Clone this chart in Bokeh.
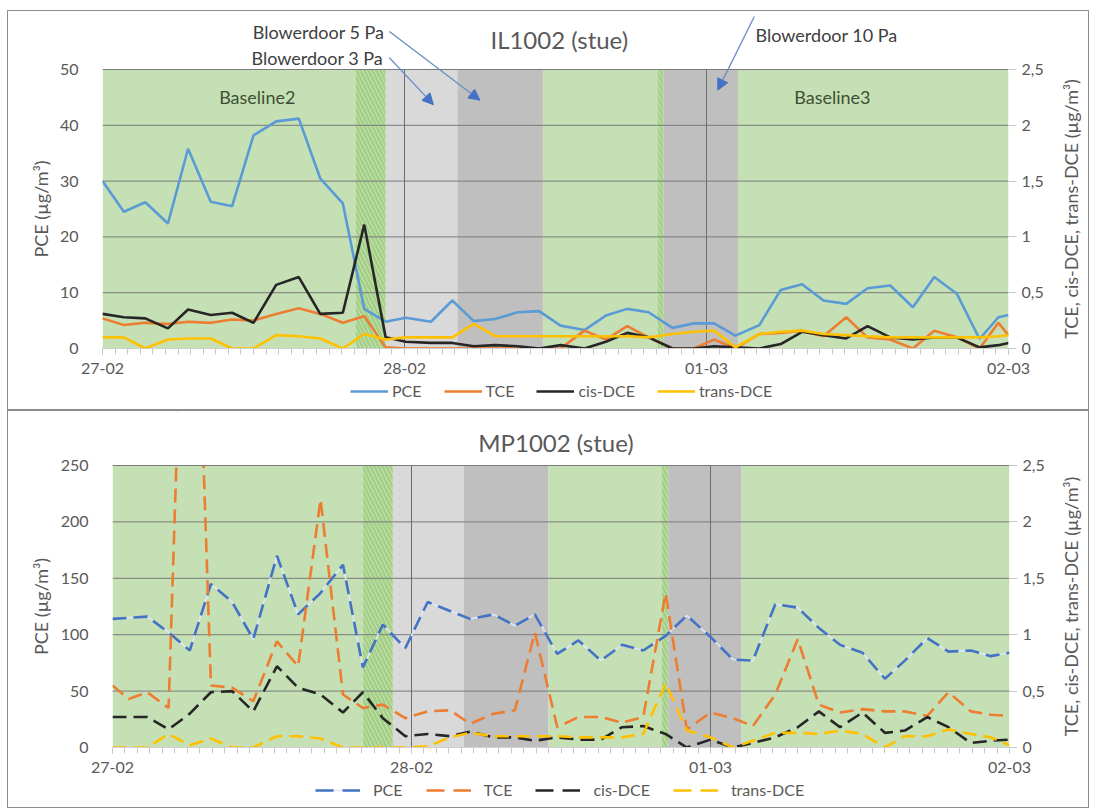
import math
from bokeh.plotting import figure
from bokeh.models import (Range1d, LinearAxis, FixedTicker, Legend, LegendItem,
                          Label, Arrow, NormalHead, Spacer)
from bokeh.layouts import column, row
from bokeh.embed import file_html
from bokeh.resources import INLINE

FONT = "Lato"
TXT = "#595959"

# ---------------- axis data ----------------
day_ticks = [0, 24, 48, 72]
day_labels = ["27-02", "28-02", "01-03", "02-03"]
hour_ticks = list(range(0, 73))
il_pce_ticks = [0, 10, 20, 30, 40, 50]
mp_pce_ticks = [0, 50, 100, 150, 200, 250]
dce_ticks = [0, 0.5, 1, 1.5, 2, 2.5]
dce_tick_labels = ["0", "0,5", "1", "1,5", "2", "2,5"]

# ---------------- test phases (hours after 27-02 00:00) ----------------
phase_start = [0, 20.1, 22.5, 28.2, 35.0, 44.1, 44.6, 50.5]
phase_end = [20.1, 22.5, 28.2, 35.0, 44.1, 44.6, 50.5, 72]
phase_kind = ["base", "trans", "bd3", "bd5", "base", "trans", "bd10", "base"]

# ---------------- IL1002 (stue) ----------------
t_il = [0, 1.7, 3.4, 5.2, 6.8, 8.6, 10.3, 12.0, 13.8, 15.6, 17.3, 19.1, 20.8, 22.5,
        24.1, 26.1, 27.8, 29.5, 31.2, 33.0, 34.7, 36.4, 38.3, 40.0, 41.7, 43.4, 45.3,
        47.0, 48.6, 50.3, 52.2, 53.9, 55.6, 57.3, 59.1, 60.8, 62.6, 64.4, 66.1, 67.9,
        69.7, 71.2, 72.0]
il_pce = [30.0, 24.5, 26.2, 22.4, 35.8, 26.3, 25.5, 38.2, 40.7, 41.2, 30.5, 26.0, 7.1,
          4.8, 5.5, 4.8, 8.6, 4.9, 5.3, 6.5, 6.7, 4.1, 3.3, 5.9, 7.1, 6.5, 3.7, 4.5,
          4.5, 2.3, 4.2, 10.5, 11.5, 8.6, 8.0, 10.8, 11.3, 7.4, 12.8, 9.8, 1.7, 5.6, 6.0]
il_tce = [0.27, 0.21, 0.23, 0.22, 0.24, 0.23, 0.26, 0.25, 0.31, 0.36, 0.31, 0.23, 0.29,
          0.01, 0, 0, 0, 0, 0, 0, 0, 0, 0.16, 0.08, 0.20, 0.10, 0, 0, 0.08, 0, 0.13,
          0.14, 0.16, 0.11, 0.28, 0.10, 0.08, 0, 0.16, 0.10, 0, 0.23, 0.12]
il_cis = [0.31, 0.28, 0.27, 0.18, 0.35, 0.30, 0.32, 0.23, 0.57, 0.64, 0.31, 0.32, 1.11,
          0.10, 0.06, 0.05, 0.05, 0.02, 0.03, 0.02, 0.0, 0.03, 0.0, 0.06, 0.14, 0.10,
          0.0, 0.0, 0.02, 0.01, 0.0, 0.04, 0.15, 0.12, 0.09, 0.20, 0.10, 0.08, 0.10,
          0.10, 0.01, 0.03, 0.05]
il_trans = [0.10, 0.10, 0.0, 0.08, 0.09, 0.09, 0.0, 0.0, 0.12, 0.11, 0.09, 0.0, 0.13,
            0.08, 0.10, 0.10, 0.10, 0.22, 0.11, 0.11, 0.11, 0.11, 0.11, 0.11, 0.11,
            0.10, 0.13, 0.15, 0.16, 0.01, 0.13, 0.15, 0.16, 0.13, 0.12, 0.11, 0.10,
            0.10, 0.10, 0.10, 0.10, 0.11, 0.12]

# ---------------- MP1002 (stue) ----------------
t_mp = [0, 1.3, 2.8, 4.5, 6.2, 7.9, 9.6, 11.3, 13.2, 14.9, 16.7, 18.5, 20.1, 21.7,
        23.5, 25.3, 27.1, 28.7, 30.6, 32.3, 33.9, 35.7, 37.4, 39.2, 40.9, 42.6, 44.4,
        46.1, 48.0, 49.8, 51.4, 53.2, 55.0, 56.7, 58.4, 60.2, 62.0, 63.6, 65.4, 67.1,
        68.9, 70.5, 72.0]
mp_pce = [114, 115, 116, 102, 86, 145, 129, 96, 170, 118, 137, 162, 71, 109, 88, 129,
          121, 114, 118, 108, 118, 83, 95, 77, 91, 86, 99, 117, 98, 78, 77, 127, 124,
          106, 91, 84, 61, 77, 97, 85, 86, 81, 84]
mp_tce = [0.55, 0.43, 0.49, 0.35, 6.2, 0.55, 0.53, 0.41, 0.94, 0.72, 2.2, 0.47, 0.35,
          0.38, 0.26, 0.32, 0.33, 0.21, 0.30, 0.33, 1.02, 0.18, 0.27, 0.27, 0.22, 0.27,
          1.37, 0.16, 0.31, 0.26, 0.19, 0.47, 0.96, 0.38, 0.31, 0.34, 0.32, 0.32, 0.28,
          0.49, 0.32, 0.29, 0.28]
mp_cis = [0.27, 0.27, 0.27, 0.16, 0.30, 0.49, 0.50, 0.32, 0.72, 0.53, 0.47, 0.31, 0.49,
          0.26, 0.10, 0.12, 0.10, 0.14, 0.09, 0.09, 0.06, 0.09, 0.07, 0.07, 0.18, 0.19,
          0.12, 0.0, 0.07, 0.0, 0.04, 0.09, 0.18, 0.32, 0.18, 0.31, 0.13, 0.15, 0.27,
          0.18, 0.04, 0.06, 0.07]
mp_trans = [0, 0, 0, 0.12, 0.02, 0.08, 0.0, 0.0, 0.10, 0.10, 0.08, 0.0, 0.0, 0.0, 0.0,
            0.01, 0.09, 0.13, 0.10, 0.10, 0.10, 0.10, 0.09, 0.09, 0.09, 0.12, 0.57,
            0.15, 0.09, 0.0, 0.06, 0.13, 0.13, 0.12, 0.15, 0.12, 0.0, 0.10, 0.10, 0.16,
            0.12, 0.09, 0.02]

series_names = ["PCE", "TCE", "cis-DCE", "trans-DCE"]

KIND_COLOR = {"base": "#c5e0b4", "bd3": "#d9d9d9", "bd5": "#bfbfbf", "bd10": "#bfbfbf"}
COLORS = ["#5b9bd5", "#ed7d31", "#262626", "#ffc000"]
COLORS_DASHED = ["#4472c4", "#ed7d31", "#262626", "#ffc000"]

LEFT_W, MAIN_W, RIGHT_W = 44, 1004, 32


def text_fig(w, h, y_range=None):
    f = figure(width=w, height=h, x_range=Range1d(0, w),
               y_range=y_range if y_range is not None else Range1d(0, h),
               min_border=0, toolbar_location=None, output_backend="svg",
               x_axis_location=None, y_axis_location=None, title=None)
    f.outline_line_color = None
    f.background_fill_color = "white"
    f.border_fill_color = "white"
    f.grid.visible = False
    return f


def make_block(title, t, pce, tce, cis, trans, pce_top, pce_ticks, dashed,
               top_px, plot_px, bl, br, title_xy, notes, arrows,
               leg_h, leg_x, leg_y, leg_glyph_w, leg_standoff, leg_spacing):
    frame_h = top_px + plot_px
    main_h = frame_h + 34
    y_end = pce_top * frame_h / plot_px
    dce_end = 2.5 * frame_h / plot_px
    p = figure(width=MAIN_W, height=main_h, x_range=Range1d(0, 72),
               y_range=Range1d(0, y_end), output_backend="svg", title=None,
               toolbar_location=None, min_border_left=bl, min_border_right=br,
               min_border_top=0, min_border_bottom=34)
    p.extra_y_ranges = {"dce": Range1d(0, dce_end)}
    p.outline_line_color = None
    p.xgrid.grid_line_color = None
    p.ygrid.grid_line_color = None
    p.background_fill_color = "white"
    p.border_fill_color = "white"

    # background phases
    solid = [i for i, k in enumerate(phase_kind) if k != "trans"]
    p.quad(left=[phase_start[i] for i in solid], right=[phase_end[i] for i in solid],
           bottom=0, top=pce_top, fill_color=[KIND_COLOR[phase_kind[i]] for i in solid],
           line_color=None)
    hat = [i for i, k in enumerate(phase_kind) if k == "trans"]
    p.quad(left=[phase_start[i] for i in hat], right=[phase_end[i] for i in hat],
           bottom=0, top=pce_top, fill_color="#d8ebcb", hatch_pattern="\\",
           hatch_color="#a3cf86", hatch_weight=3, hatch_scale=8, line_color=None)

    # gridlines over the background
    gy = pce_ticks[1:-1]
    p.segment(x0=0, y0=gy, x1=72, y1=gy, line_color="#7a7a7a", line_width=1)
    p.segment(x0=day_ticks[1:3], y0=0, x1=day_ticks[1:3], y1=pce_top,
              line_color="#6e6e6e", line_width=1)

    cols = COLORS_DASHED if dashed else COLORS
    dash = "14 7" if dashed else "solid"
    w = 2.6
    if dashed:
        p.line(t, pce, line_color="#dce8f6", line_width=1.6)
    p.line(t, pce, line_color=cols[0], line_width=w, line_dash=dash)
    p.line(t, tce, y_range_name="dce", line_color=cols[1], line_width=w, line_dash=dash)
    p.line(t, cis, y_range_name="dce", line_color=cols[2], line_width=w, line_dash=dash)
    p.line(t, trans, y_range_name="dce", line_color=cols[3], line_width=w, line_dash=dash)

    # plot area ends at the top tick: hide anything drawn above it
    p.quad(left=-1, right=73, bottom=pce_top, top=y_end + 1, fill_color="white",
           line_color=None)
    p.segment(x0=0, y0=pce_top, x1=72, y1=pce_top, line_color="#7a7a7a", line_width=1)

    # x axis
    xa = p.xaxis[0]
    xa.ticker = FixedTicker(ticks=day_ticks, minor_ticks=hour_ticks)
    xa.major_label_overrides = dict(zip(day_ticks, day_labels))
    xa.axis_line_color = "#d0d0d0"
    xa.major_tick_line_color = "#c8c8c8"
    xa.minor_tick_line_color = "#c8c8c8"
    xa.major_tick_out = 6
    xa.major_tick_in = 0
    xa.minor_tick_out = 6
    xa.minor_tick_in = 0
    xa.major_label_standoff = 8
    xa.major_label_text_font = FONT
    xa.major_label_text_font_size = "16px"
    xa.major_label_text_color = TXT

    # left axis
    ya = p.yaxis[0]
    ya.ticker = FixedTicker(ticks=pce_ticks)
    ya.axis_line_color = None
    ya.major_tick_line_color = None
    ya.minor_tick_line_color = None
    ya.major_label_standoff = 18
    ya.major_label_text_font = FONT
    ya.major_label_text_font_size = "16px"
    ya.major_label_text_color = TXT

    # right axis
    ra = LinearAxis(y_range_name="dce", ticker=FixedTicker(ticks=dce_ticks))
    ra.major_label_overrides = dict(zip(dce_ticks, dce_tick_labels))
    ra.axis_line_color = None
    ra.major_tick_line_color = "#c8c8c8"
    ra.major_tick_out = 8
    ra.major_tick_in = 0
    ra.minor_tick_line_color = None
    ra.major_label_standoff = 5
    ra.major_label_text_font = FONT
    ra.major_label_text_font_size = "16px"
    ra.major_label_text_color = TXT
    p.add_layout(ra, "right")

    # title and annotations (inside the frame, above the plotted area)
    p.add_layout(Label(x=title_xy[0], y=title_xy[1], text=title, text_align="center",
                       text_baseline="middle", text_font=FONT, text_font_size="24px",
                       text_color=TXT))
    for (tx, x, y, align, col) in notes:
        p.add_layout(Label(x=x, y=y, text=tx, text_align=align, text_baseline="middle",
                           text_font=FONT, text_font_size="18px", text_color=col))
    for (x0, y0, x1, y1) in arrows:
        p.add_layout(Arrow(end=NormalHead(size=11, fill_color="#4472c4",
                                          line_color="#4472c4"),
                           x_start=x0, y_start=y0, x_end=x1, y_end=y1,
                           line_color="#6a8cc6", line_width=1.3))

    # left axis title (shares the PCE scale so it centres on the plot area)
    lf = text_fig(LEFT_W, main_h, y_range=p.y_range)
    lf.add_layout(Label(x=32, y=pce_top / 2, text="PCE (µg/m³)", angle=math.pi / 2,
                        text_align="center", text_baseline="middle", text_font=FONT,
                        text_font_size="18px", text_color=TXT))
    # right axis title
    rf = text_fig(RIGHT_W, main_h, y_range=p.y_range)
    rf.add_layout(Label(x=14, y=pce_top / 2, text="TCE, cis-DCE, trans-DCE (µg/m³)",
                        angle=math.pi / 2, text_align="center", text_baseline="middle",
                        text_font=FONT, text_font_size="18px", text_color=TXT))

    # legend strip
    gf = text_fig(LEFT_W + MAIN_W + RIGHT_W, leg_h)
    leg_dash = "18 9" if dashed else "solid"
    items = []
    for n, c in zip(series_names, cols):
        rs = []
        if dashed and n == "PCE":
            rs.append(gf.line([-20, -10], [-20, -20], line_color="#dce8f6", line_width=1.6))
        rs.append(gf.line([-20, -10], [-20, -20], line_color=c, line_width=w,
                          line_dash=leg_dash))
        items.append(LegendItem(label=n, renderers=rs))
    legend = Legend(items=items, orientation="horizontal", location=(leg_x, leg_y),
                    border_line_color=None, background_fill_alpha=0,
                    label_text_font=FONT, label_text_font_size="16px",
                    label_text_color=TXT, glyph_width=leg_glyph_w, glyph_height=14,
                    label_height=18, label_standoff=leg_standoff, spacing=leg_spacing,
                    padding=0, margin=0)
    gf.add_layout(legend)

    return column(row(lf, p, rf, spacing=0), gf, spacing=0,
                  styles={"border": "1px solid #8c8c8c"})


top = make_block(
    "IL1002 (stue)", t_il, il_pce, il_tce, il_cis, il_trans, 50, il_pce_ticks, False,
    top_px=58, plot_px=279, bl=50, br=48, title_xy=(36.3, 55.4),
    notes=[("Blowerdoor 5 Pa", 22.4, 56.8, "right", "#404040"),
           ("Blowerdoor 3 Pa", 22.3, 52.1, "right", "#404040"),
           ("Blowerdoor 10 Pa", 51.9, 56.2, "left", "#404040"),
           ("Baseline2", 12.3, 45.1, "center", "#3f4f35"),
           ("Baseline3", 58.0, 45.1, "center", "#3f4f35")],
    arrows=[(22.8, 56.8, 30.0, 44.5), (22.8, 52.1, 26.3, 43.7), (51.8, 59.5, 48.9, 46.3)],
    leg_h=27, leg_x=342, leg_y=9, leg_glyph_w=38, leg_standoff=4, leg_spacing=22)

bottom = make_block(
    "MP1002 (stue)", t_mp, mp_pce, mp_tce, mp_cis, mp_trans, 250, mp_pce_ticks, True,
    top_px=54, plot_px=282, bl=60, br=47, title_xy=(35.6, 270.7),
    notes=[], arrows=[],
    leg_h=26, leg_x=307, leg_y=8, leg_glyph_w=45, leg_standoff=13, leg_spacing=23)

layout = column(Spacer(height=10),
                row(Spacer(width=7), column(top, bottom, spacing=0), spacing=0),
                spacing=0)
open("out.html", "w").write(file_html(layout, INLINE))
